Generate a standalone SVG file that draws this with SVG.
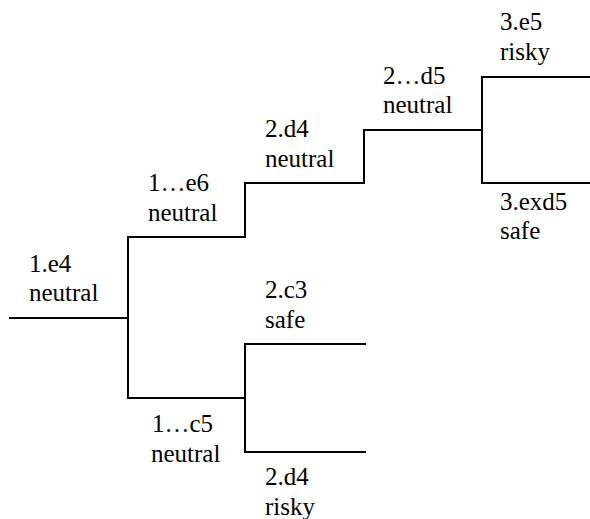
<svg xmlns="http://www.w3.org/2000/svg" width="590" height="519" viewBox="0 0 590 519">
<style>
.e{fill:none;stroke:#000;stroke-width:2;stroke-linecap:square}
</style>
<rect width="590" height="519" fill="#fff"/>
<g id="connectors">
<path class="e" d="M10,318H128"/>
<path class="e" d="M128,237V398M128,237H245M128,398H245"/>
<path class="e" d="M245,183V237M245,183H364"/>
<path class="e" d="M364,130V183M364,130H482"/>
<path class="e" d="M482,77V183M482,77H590M482,183H590"/>
<path class="e" d="M245,344V452M245,344H365M245,452H365"/>
</g>
<g font-family="Liberation Serif, DejaVu Serif, serif" font-size="25" fill="#000">
<g id="n-1e4"><text x="29" y="272">1.e4</text><text x="29" y="301">neutral</text></g>
<g id="n-1e6"><text x="148" y="191">1…e6</text><text x="148" y="221">neutral</text></g>
<g id="n-2d4"><text x="265" y="137">2.d4</text><text x="265" y="167">neutral</text></g>
<g id="n-2d5"><text x="383" y="84">2…d5</text><text x="383" y="113">neutral</text></g>
<g id="n-3e5"><text x="500" y="30">3.e5</text><text x="500" y="60">risky</text></g>
<g id="n-3exd5"><text x="500" y="210">3.exd5</text><text x="500" y="239">safe</text></g>
<g id="n-2c3"><text x="265" y="298">2.c3</text><text x="265" y="328">safe</text></g>
<g id="n-1c5"><text x="152" y="432">1…c5</text><text x="151" y="462">neutral</text></g>
<g id="n-2d4r"><text x="265" y="485">2.d4</text><text x="265" y="515">risky</text></g>
</g>
</svg>
